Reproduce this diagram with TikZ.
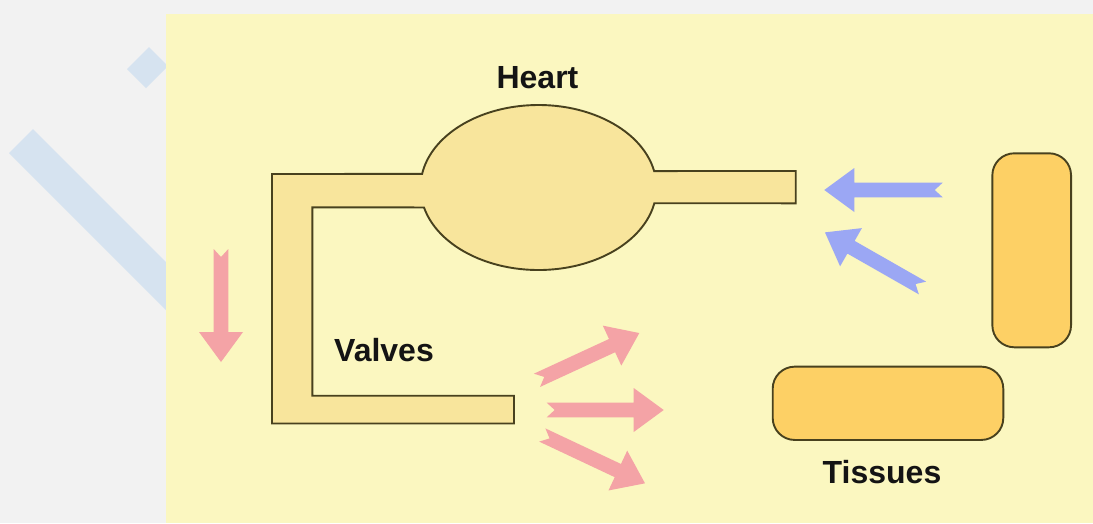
\documentclass[tikz,border=0pt]{standalone}
\usepackage{fontspec}
\setmainfont{Liberation Sans}
\definecolor{pagegray}{HTML}{F2F2F2}
\definecolor{stripeblue}{HTML}{D6E3F0}
\definecolor{panelyellow}{HTML}{FBF7C0}
\definecolor{vesselfill}{HTML}{F8E59C}
\definecolor{outline}{HTML}{48411E}
\definecolor{tissuefill}{HTML}{FDD065}
\definecolor{flowred}{HTML}{F4A3A6}
\definecolor{returnblue}{HTML}{9BA7F4}
\begin{document}
\begin{tikzpicture}[x=1pt,y=-1pt,
  pipe/.style={fill=vesselfill,draw=outline,line width=1.9pt,line join=miter},
  tissue/.style={fill=tissuefill,draw=outline,line width=1.9pt,rounded corners=22pt,inner sep=0pt},
  label/.style={font=\fontsize{32}{38}\selectfont\bfseries,text=black!92,inner sep=0pt,anchor=base},
  arrowbody/.style={fill=flowred},
  blockarrow/.pic={
    \fill[arrowbody] (0,-7.3) -- ({#1-30},-7.3) -- ({#1-30},-22) -- (#1,0)
      -- ({#1-30},22) -- ({#1-30},7.3) -- (0,7.3) -- (8,0) -- cycle;
  },
  redflow/.style={arrowbody/.style={fill=flowred}},
  blueflow/.style={arrowbody/.style={fill=returnblue}}]

  \useasboundingbox (0,0) rectangle (1093,523);
  \fill[pagegray] (0,0) rectangle (1093,523);

  % faint diagonal marks behind the panel
  \fill[stripeblue] (127,69) -- (149,47) -- (168,66) -- (146,88) -- cycle;
  \fill[stripeblue] (9,153) -- (33,129) -- (200,296) -- (200,344) -- cycle;

  % panel
  \fill[panelyellow] (166,14) rectangle (1093,523);

  % heart chamber with the vessels attached
  \coordinate (hc) at (538.5,187.5);
  \draw[pipe] ([shift={(166:118 and 82.5)}]hc)
      arc[start angle=166,end angle=11,x radius=118,y radius=82.5]
      -- (795.7,203.3) -- (795.7,171)
      -- ([shift={(-11.5:118 and 82.5)}]hc)
      arc[start angle=-11.5,end angle=-170.5,x radius=118,y radius=82.5]
      -- (272,174) -- (272,423.5) -- (514,423.5) -- (514,395.7)
      -- (312.3,395.7) -- (312.3,207.3) -- cycle;

  % labels
  \node[label] (heart) at (537.5,88.3) {Heart};
  \node[label] (valves) at (384,361) {Valves};
  \node[label] (tissues) at (882,483.3) {Tissues};

  % tissues
  \node[tissue,minimum width=78.7pt,minimum height=194pt] (tissueA) at (1031.7,250.3) {};
  \node[tissue,minimum width=230.6pt,minimum height=73.3pt] (tissueB) at (888,403.3) {};

  % outgoing flow
  \pic[redflow,rotate=-90] at (221,249) {blockarrow=113};
  \pic[redflow,rotate=24.8] at (537,380.3) {blockarrow=112.7};
  \pic[redflow] at (546.7,410) {blockarrow=117};
  \pic[redflow,rotate=-25.2] at (542.3,435) {blockarrow=113.5};

  % returning flow
  \pic[blueflow,rotate=180] at (942.7,190) {blockarrow=118.4};
  \pic[blueflow,rotate=150.3] at (922.5,288) {blockarrow=112.3};
\end{tikzpicture}
\end{document}
